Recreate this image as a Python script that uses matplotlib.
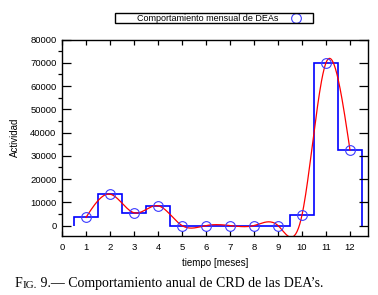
import numpy as np
import matplotlib
matplotlib.use("Agg")
import matplotlib.pyplot as plt
from matplotlib.patches import Rectangle
from matplotlib.text import Annotation
from matplotlib.ticker import MultipleLocator

# monthly activity (DEAs)
meses = [1, 2, 3, 4, 5, 6, 7, 8, 9, 10, 11, 12]
actividad = [3500, 13500, 5500, 8500, 0, 0, 0, 0, 0, 4500, 70000, 32500]
xticks = list(range(0, 13))
yticks = list(range(0, 80001, 10000))


# natural cubic spline through the data (like gnuplot "smooth csplines")
def csplines(x, y, n=400):
    x = np.asarray(x, float)
    y = np.asarray(y, float)
    k = len(x)
    h = np.diff(x)
    A = np.zeros((k, k))
    b = np.zeros(k)
    A[0, 0] = A[-1, -1] = 1
    for i in range(1, k - 1):
        A[i, i - 1] = h[i - 1]
        A[i, i] = 2 * (h[i - 1] + h[i])
        A[i, i + 1] = h[i]
        b[i] = 6 * ((y[i + 1] - y[i]) / h[i] - (y[i] - y[i - 1]) / h[i - 1])
    M = np.linalg.solve(A, b)
    xs = np.linspace(x[0], x[-1], n)
    idx = np.clip(np.searchsorted(x, xs) - 1, 0, k - 2)
    x0, x1 = x[idx], x[idx + 1]
    hh = x1 - x0
    t0, t1 = x1 - xs, xs - x0
    ys = (M[idx] * t0**3 + M[idx + 1] * t1**3) / (6 * hh) \
        + (y[idx] / hh - M[idx] * hh / 6) * t0 \
        + (y[idx + 1] / hh - M[idx + 1] * hh / 6) * t1
    return xs, ys


plt.rcParams['font.family'] = 'Liberation Sans'
fig = plt.figure(figsize=(3.78, 2.95), dpi=100)
ax = fig.add_axes([0.164, 0.2, 0.8095, 0.666])

# histogram-like steps, one box per month
edges = [m - 0.5 for m in meses] + [meses[-1] + 0.5]
ax.stairs(actividad, edges, baseline=0, color='#0000ff', lw=1.2)

xs, ys = csplines(meses, actividad)
ax.plot(xs, ys, color='#ff0000', lw=0.9)

pts, = ax.plot(meses, actividad, 'o', mfc='none', mec='#3a3aff', ms=7.0, mew=0.8,
               label='Comportamiento mensual de DEAs')

ax.set_xlim(0, 12.75)
ax.set_ylim(-4500, 80000)
ax.set_xticks(xticks)
ax.set_yticks(yticks)
ax.yaxis.set_minor_locator(MultipleLocator(5000))
ax.tick_params(axis='both', direction='in', top=True, right=True, labelsize=6.8,
               width=0.9)
ax.tick_params(axis='x', length=3.8, pad=5)
ax.tick_params(axis='y', which='major', length=6.5, pad=4)
ax.tick_params(axis='y', which='minor', length=3.2, width=0.9)
for s in ax.spines.values():
    s.set_linewidth(1.0)

ax.set_xlabel('tiempo [meses]', fontsize=7, labelpad=4)
ax.set_ylabel('Actividad', fontsize=7, labelpad=7)

# legend above the plot
ax.legend(handles=[pts], loc='center', bbox_to_anchor=(0.581, 0.936),
          bbox_transform=fig.transFigure, frameon=False, markerfirst=False,
          fontsize=6.5, handlelength=1.5, handletextpad=1.2, borderpad=0.1)
fig.add_artist(Rectangle((115 / 378, 1 - 23 / 295), 198 / 378, 10 / 295,
                         transform=fig.transFigure, fill=False, lw=1.0,
                         edgecolor='black'))

# caption
t1 = fig.text(15 / 378, 1 - 287 / 295, 'F', family='Liberation Serif', fontsize=10)
ann = fig.add_artist(Annotation('IG.', xy=(1, 0), xycoords=t1, fontsize=8,
                                family='Liberation Serif', va='bottom'))
fig.add_artist(Annotation(
    ' 9.\u2014 Comportamiento anual de CRD de las DEA\u2019s.', xy=(1, 0),
    xycoords=ann, fontsize=10, family='Liberation Serif', va='bottom'))

fig.savefig('out.png', dpi=100)
